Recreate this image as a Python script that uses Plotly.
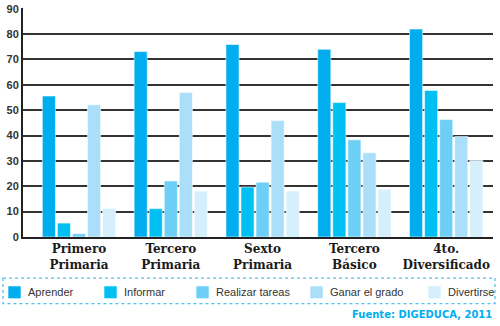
import plotly.graph_objects as go

# Grade levels (two-line category labels)
niveles = ["Primero<br>Primaria", "Tercero<br>Primaria", "Sexto<br>Primaria",
           "Tercero<br>Básico", "4to.<br>Diversificado"]

# Percentage of students per motive
aprender = [55.6, 73.1, 75.9, 74.0, 82.0]
informar = [5.5, 11.2, 19.7, 53.0, 57.8]
realizar_tareas = [1.3, 22.1, 21.6, 38.3, 46.3]
ganar_grado = [52.1, 57.0, 45.9, 33.2, 39.6]
divertirse = [11.3, 18.1, 18.1, 18.8, 30.2]

series = [
    ("Aprender", aprender, "#00aeef"),
    ("Informar", informar, "#00c0f3"),
    ("Realizar tareas", realizar_tareas, "#6dcff6"),
    ("Ganar el grado", ganar_grado, "#abdff9"),
    ("Divertirse", divertirse, "#d5effc"),
]

# Plot area geometry in pixels, used to place the hand-made legend
W, H = 500, 326
ML, MR, MT, MB = 23, 7, 3, 89
PW, PH = W - ML - MR, H - MT - MB


def px_x(x):
    return (x - ML) / PW


def px_y(y):
    return (H - MB - y) / PH


fig = go.Figure()
for nombre, valores, color in series:
    fig.add_trace(go.Bar(
        name=nombre, x=niveles, y=valores,
        marker=dict(color=color, line=dict(color="rgba(255,255,255,0.55)", width=1)),
    ))

# Legend row: swatch + label for each series, inside a dotted frame
legend_swatch_left = [8, 104, 196, 310, 428]
shapes = [dict(
    type="rect", xref="paper", yref="paper",
    x0=px_x(3), x1=px_x(495), y0=px_y(279), y1=px_y(305),
    line=dict(color="#4cc3f0", width=1.3, dash="dot"),
)]
annotations = []
for (nombre, _, color), left in zip(series, legend_swatch_left):
    shapes.append(dict(
        type="rect", xref="paper", yref="paper",
        x0=px_x(left), x1=px_x(left + 13), y0=px_y(287), y1=px_y(300),
        fillcolor=color, line=dict(color="rgba(255,255,255,0.6)", width=1),
    ))
    annotations.append(dict(
        text=nombre, xref="paper", yref="paper",
        x=px_x(left + 18), y=px_y(293.5), xanchor="left", yanchor="middle",
        showarrow=False,
        font=dict(family="Liberation Sans, Arial", size=11, color="#333333"),
    ))

annotations.append(dict(
    text="Fuente: DIGEDUCA, 2011", xref="paper", yref="paper",
    x=px_x(494), y=px_y(316), xanchor="right", yanchor="middle", showarrow=False,
    font=dict(family="DejaVu Sans", size=10, color="#00aeef", weight="bold"),
))

fig.update_layout(
    width=W, height=H,
    margin=dict(l=ML, r=MR, t=MT, b=MB),
    paper_bgcolor="white", plot_bgcolor="white",
    barmode="group", bargap=0.18, bargroupgap=0.13,
    showlegend=False,
    xaxis=dict(
        range=[-0.61, 4.51], showgrid=False,
        showline=True, linecolor="#222222", linewidth=2,
        ticks="", tickfont=dict(family="DejaVu Serif", size=12, color="#1a1a1a", weight="bold"),
    ),
    yaxis=dict(
        range=[0, 90.3], dtick=10, tick0=0,
        showgrid=True, gridcolor="#333333", gridwidth=1.6,
        showline=True, linecolor="#222222", linewidth=2,
        zeroline=False, ticks="", ticklabeloverflow="allow",
        tickfont=dict(family="Liberation Sans, Arial", size=11, color="#333333", weight="bold"),
    ),
    shapes=shapes,
    annotations=annotations,
)

fig.write_html("out.html")
